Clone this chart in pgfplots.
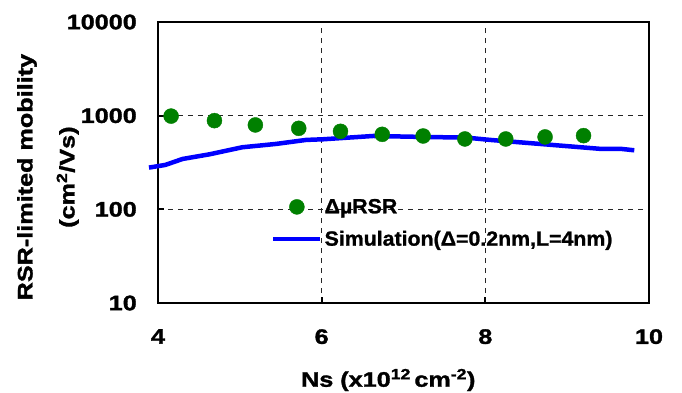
\documentclass[border=0pt]{standalone}
\usepackage{fontspec}
\setmainfont{Liberation Sans}[BoldFeatures={FakeBold=1.2, FakeStretch=1.04}]
\newfontfamily\widefont{Liberation Sans}[FakeStretch=1.2, BoldFeatures={FakeBold=1.5}]
\usepackage{pgfplots}
\pgfplotsset{compat=1.18}
\definecolor{dgreen}{RGB}{0,128,0}
\definecolor{sblue}{RGB}{0,0,255}
\begin{document}
\begin{tikzpicture}
\useasboundingbox (-158pt,-89pt) rectangle (524pt,303pt);
\begin{axis}[
  scale only axis,
  width=491pt, height=281pt,
  at={(0pt,0pt)}, anchor=south west,
  xmin=4, xmax=10,
  ymode=log, ymin=10, ymax=10000,
  xtick={4,6,8,10},
  xticklabels={4,6,8,10},
  ytick={10,100,1000,10000}, yticklabels={10,100,1000,10000},
  yminorticks=false,
  xtick pos=bottom, ytick pos=left,
  tick align=inside,
  major tick length=6pt,
  tick style={line width=2pt, black},
  axis line style={line width=2.5pt},
  grid=major,
  major grid style={line width=0.8pt, black!85, dash pattern=on 5pt off 5pt},
  clip=false,
  yticklabel style={font=\widefont\bfseries\fontsize{21}{25}\selectfont, anchor=east, inner sep=0pt, xshift=-21pt},
  xticklabel style={font=\widefont\bfseries\fontsize{21}{25}\selectfont, anchor=north, inner sep=0pt, yshift=-26pt},
  xlabel={Ns (x10\textsuperscript{12}\,cm\textsuperscript{-2})},
  xlabel style={font=\widefont\bfseries\fontsize{21}{25}\selectfont, at={(axis description cs:0.469,-0.274)}, anchor=center},
  ylabel={RSR-limited mobility\\(cm\textsuperscript{2}/Vs)},
  ylabel style={font=\widefont\bfseries\fontsize{21}{42}\selectfont, align=center, at={(axis description cs:-0.224,0.448)}, anchor=center},
  legend style={draw=none, fill=none, at={(axis description cs:0.230,0.378)}, anchor=north west,
    font=\bfseries\fontsize{20.5}{24}\selectfont, inner sep=0pt, row sep=12pt,
    /tikz/every even column/.append style={column sep=4pt}},
  legend cell align=left,
  legend image code/.code={\draw[mark repeat=2,mark phase=2,#1] plot coordinates {(0pt,0pt)(23.5pt,0pt)(47pt,0pt)};},
]
\addplot[only marks, mark=*, mark size=7.5pt, color=dgreen, mark options={fill=dgreen, draw=dgreen}]
coordinates {
(4.16,990) (4.69,885) (5.19,796) (5.72,733) (6.23,681) (6.74,632)
(7.24,607) (7.75,564) (8.25,564) (8.73,593) (9.20,612)
};
\addlegendentry{ΔµRSR}
\addplot[sblue, line width=4.5pt, line join=round]
coordinates {
(3.89,279) (4.09,298) (4.30,345) (4.63,387) (5.03,460) (5.44,499)
(5.81,551) (6.02,560) (6.63,607) (7.24,593) (7.77,583) (8.06,551)
(8.67,499) (9.41,442) (9.66,442) (9.82,427)
};
\addlegendentry{Simulation(Δ=0.2nm,L=4nm)}
\end{axis}
\end{tikzpicture}
\end{document}
